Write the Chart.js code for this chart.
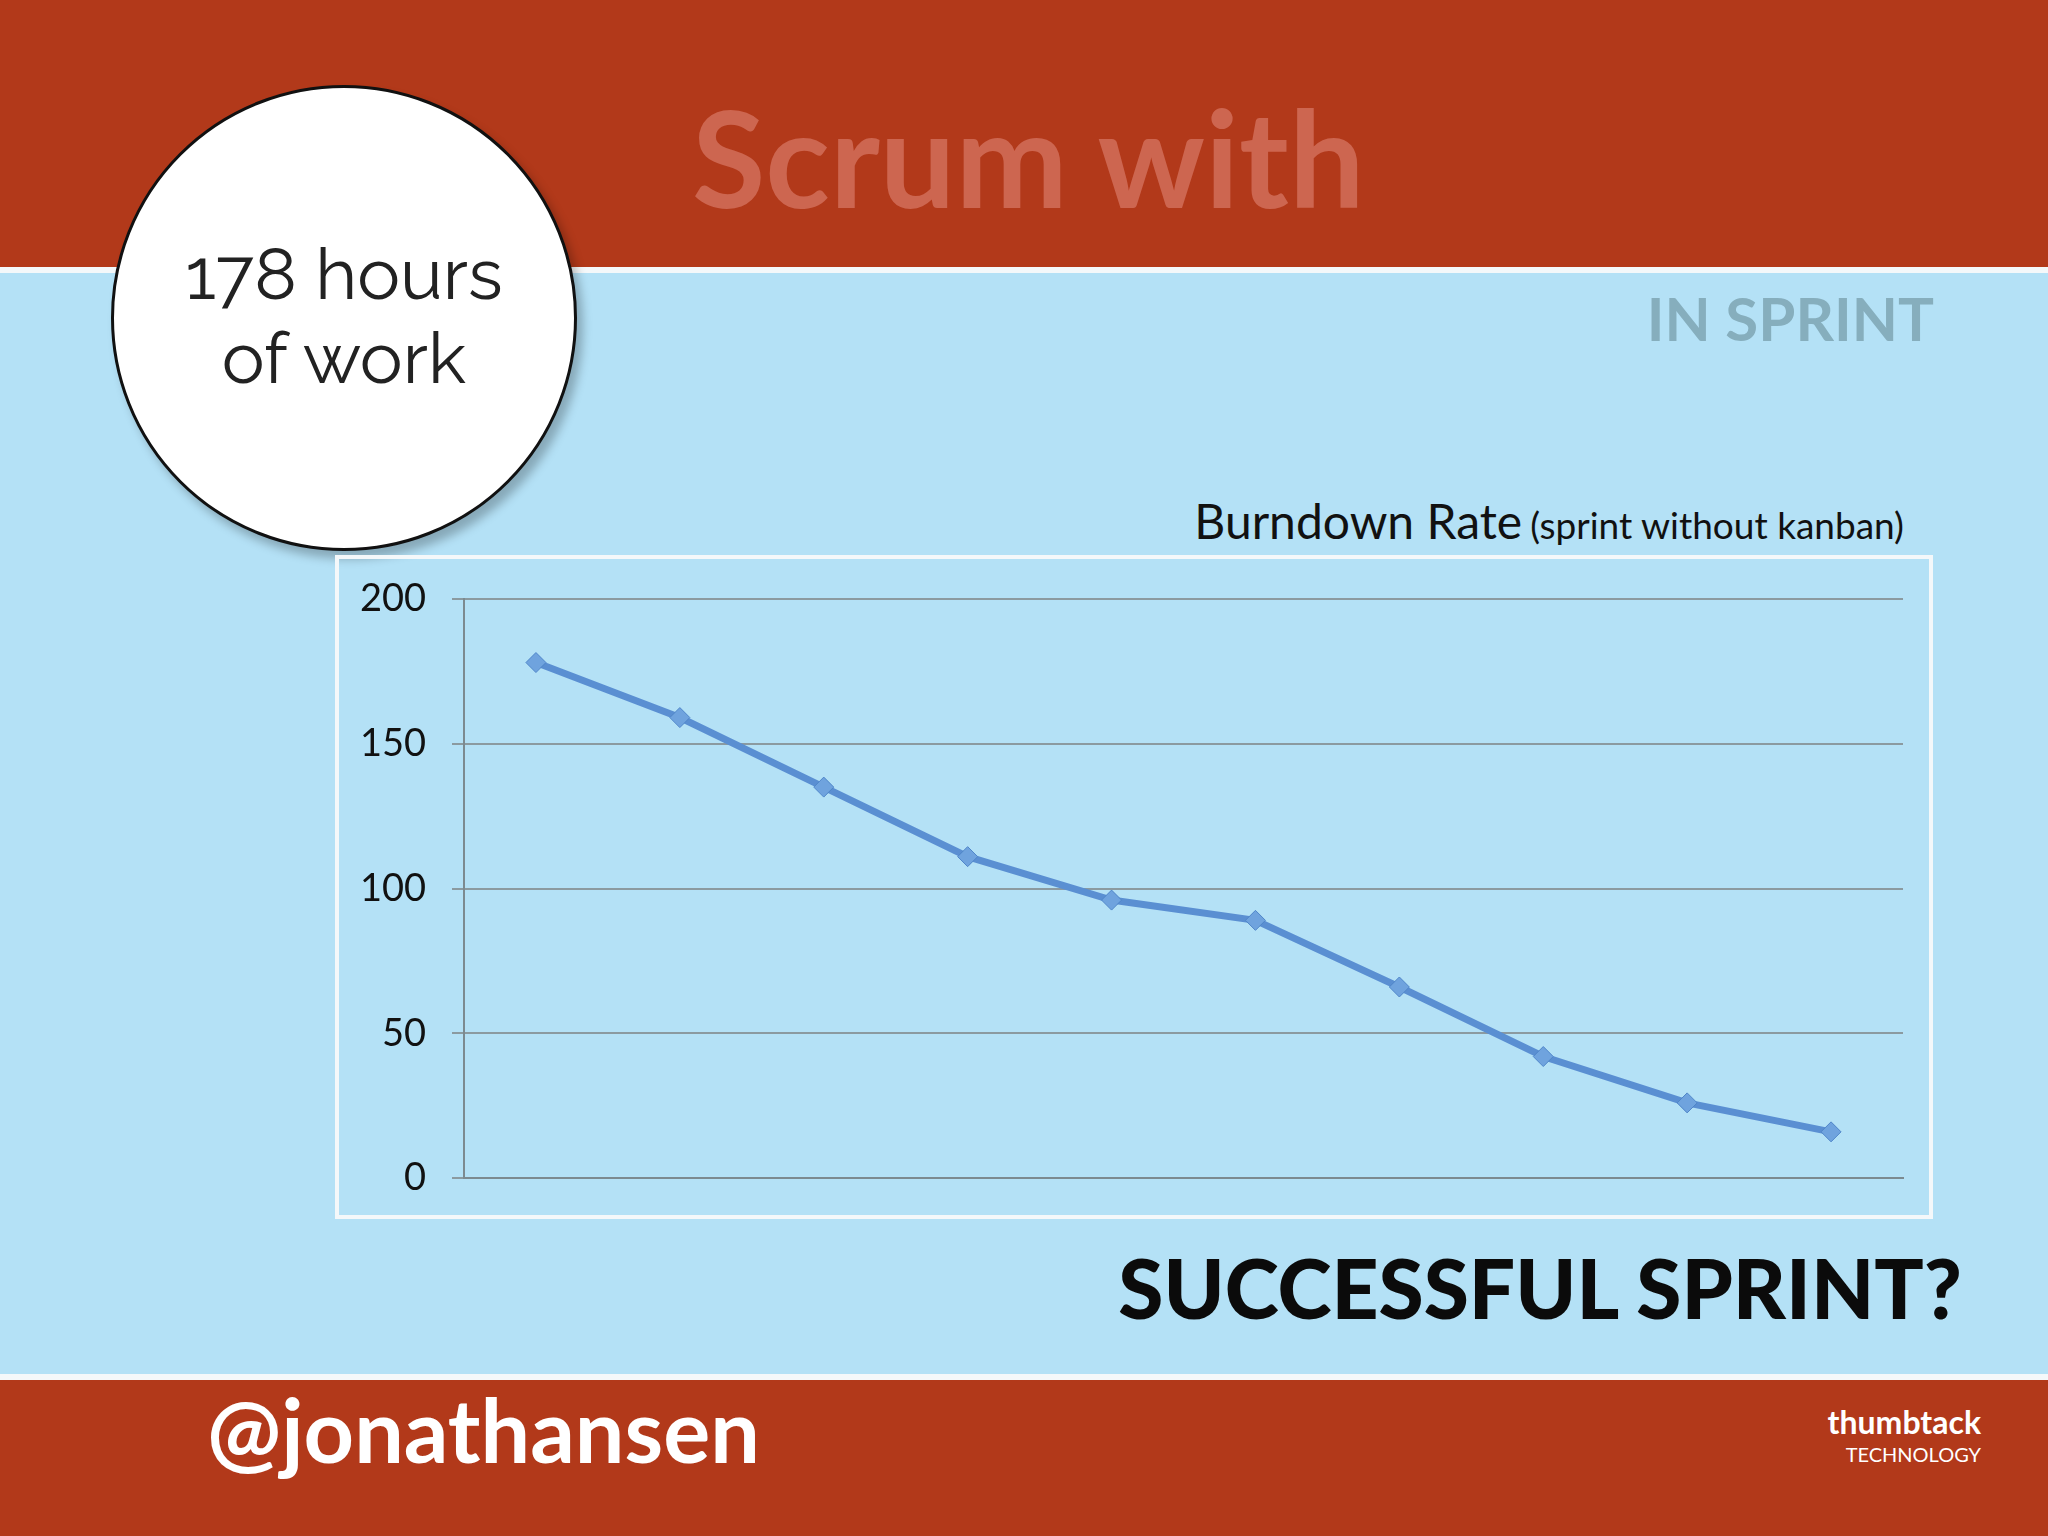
<!DOCTYPE html>
<html>
<head>
<meta charset="utf-8">
<script src="https://cdn.jsdelivr.net/npm/chart.js@4"></script>
<style>
  body { margin:0; width:2048px; height:1536px; position:relative; overflow:hidden; background:#b4e1f6; font-family:Lato, sans-serif; }
  .top { position:absolute; left:0; top:0; width:2048px; height:267px; background:#b2391a; border-bottom:6px solid #f4f8fa; }
  .bottom { position:absolute; left:0; top:1374px; width:2048px; height:162px; background:#b2391a; border-top:6px solid #f4f8fa; }
  .abs { position:absolute; white-space:nowrap; }
  .circle { position:absolute; left:111px; top:85px; width:460px; height:460px; border-radius:50%; background:#fff; border:3px solid #111; box-shadow:6px 8px 10px rgba(0,0,0,0.25); }
  .box { position:absolute; left:335px; top:555px; width:1598px; height:664px; border:4px solid #f4f8fa; box-sizing:border-box; }
</style>
</head>
<body>
<div class="top"></div>
<div class="bottom"></div>
<div class="abs" style="left:692px;top:76px;font-size:134px;font-weight:bold;color:#cd6650;">Scrum with</div>
<div class="abs" style="right:114px;top:282px;font-size:60px;font-weight:bold;color:#86aebd;">IN SPRINT</div>
<div class="circle"></div>
<div class="abs" style="left:111px;top:232px;width:466px;text-align:center;font-size:72px;line-height:84px;color:#222;font-family:Raleway,Lato,sans-serif;">178 hours<br>of work</div>
<div class="abs" style="right:144px;top:492px;color:#111;"><span style="font-size:48px;">Burndown Rate</span>&nbsp; <span style="font-size:37px;">(sprint without kanban)</span></div>
<div class="box"></div>
<div class="abs" style="left:341px;top:550px;width:1590px;height:677px;"><canvas id="c"></canvas></div>
<div class="abs" style="right:86px;top:1238px;font-size:82px;font-weight:900;color:#0b0b0b;">SUCCESSFUL SPRINT?</div>
<div class="abs" style="left:207px;top:1376px;font-size:88px;font-weight:bold;color:#fff;">@jonathansen</div>
<div class="abs" style="right:67px;top:1408px;text-align:right;color:#fff;font-size:32px;font-weight:bold;line-height:28px;">thumbtack<br><span style="font-size:20px;font-weight:normal;">TECHNOLOGY</span></div>
<script>
const days = ['1','2','3','4','5','6','7','8','9','10'];
const hoursLeft = [178, 159, 135, 111, 96, 89, 66, 42, 26, 16];
const yTicks = [0, 50, 100, 150, 200];

new Chart(document.getElementById('c'), {
  type: 'line',
  data: {
    labels: days,
    datasets: [{
      data: hoursLeft,
      borderColor: '#5a8fd2',
      borderWidth: 7,
      pointStyle: 'rectRot',
      pointRadius: 10,
      pointBackgroundColor: '#6fa3de',
      pointBorderColor: '#4f85c8',
      pointBorderWidth: 1,
      tension: 0
    }]
  },
  options: {
    responsive: true,
    maintainAspectRatio: false,
    animation: false,
    layout: { padding: { top: 29, bottom: 19, right: 28, left: 0 } },
    plugins: { legend: { display: false }, tooltip: { enabled: false } },
    scales: {
      x: {
        offset: true,
        ticks: { display: false },
        grid: { display: false },
        border: { display: true, color: '#7c8a90', width: 2 }
      },
      y: {
        min: 0, max: 200,
        afterBuildTicks: a => { a.ticks = yTicks.map(v => ({ value: v })); },
        afterFit: a => { a.width = 123; },
        ticks: { color: '#111', font: { family: 'Lato', size: 38 }, padding: 26 },
        grid: { color: '#8b9aa0', lineWidth: 2, tickLength: 12 },
        border: { display: true, color: '#7c8a90', width: 2 }
      }
    }
  }
});
</script>
</body>
</html>
